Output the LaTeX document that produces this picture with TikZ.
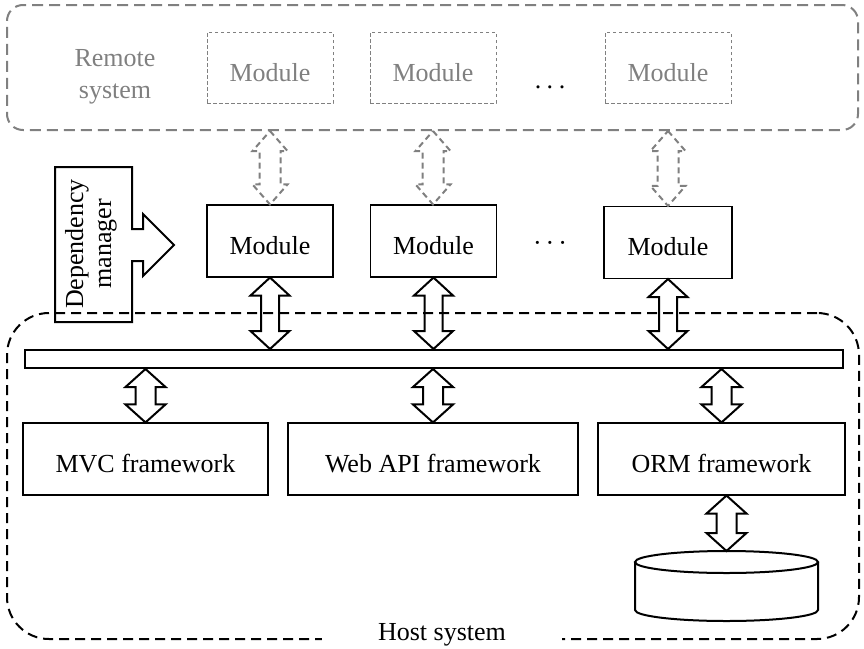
\documentclass[tikz,border=0pt]{standalone}
\usepackage{fontspec}
\setmainfont{Liberation Serif}
\usetikzlibrary{calc}
\definecolor{rgray}{RGB}{128,128,128}
% #1 top point, #2 bottom point, #3 shaft half width, #4 head half width, #5 head length, #6 style
\newcommand{\blockarrow}[6]{%
  \draw[#6] let \p1=(#1), \p2=(#2) in
   (\x1,\y1) -- (\x1+#4,\y1-#5) -- (\x1+#3,\y1-#5) -- (\x1+#3,\y2+#5) -- (\x1+#4,\y2+#5) -- (\x1,\y2)
   -- (\x1-#4,\y2+#5) -- (\x1-#3,\y2+#5) -- (\x1-#3,\y1-#5) -- (\x1-#4,\y1-#5) -- cycle;}
\begin{document}
\begin{tikzpicture}[x=1pt,y=-1pt,
  font=\fontsize{26}{29}\selectfont, line join=miter,
  modbox/.style={draw, line width=1.1pt, minimum width=126pt, minimum height=72pt,
    inner sep=0pt, text height=26pt, text depth=0pt},
  rmodbox/.style={draw=rgray, text=rgray, line width=1pt, dash pattern=on 3.5pt off 2.5pt,
    minimum width=126pt, minimum height=71pt, inner sep=0pt, text height=28pt, text depth=0pt},
  fwbox/.style={draw, line width=1.1pt, minimum height=72pt, inner sep=0pt,
    text height=26pt, text depth=0pt},
  solidarrow/.style={line width=2pt},
  grayarrow/.style={line width=2pt, draw=rgray, dash pattern=on 6pt off 4pt}
]
\useasboundingbox (0,0) rectangle (864,648);

% remote system
\node[draw=rgray, line width=2pt, dash pattern=on 11pt off 6pt, rounded corners=16pt,
  minimum width=851pt, minimum height=125pt, inner sep=0pt] (remote) at (432.5,67.5) {};
\node[text=rgray, align=center, font=\fontsize{26}{32}\selectfont] (rlabel) at (115,77) {Remote\\system};
\node[rmodbox] (r1) at (270,67.5) {Module};
\node[rmodbox] (r2) at (433,67.5) {Module};
\node[rmodbox] (r3) at (668,67.5) {Module};
\node[anchor=base, inner sep=0pt] (rdots) at (550,88) {.\hspace{5.5pt}.\hspace{5.5pt}.};

% modules
\node[modbox] (m1) at (270,241) {Module};
\node[modbox] (m2) at (433.5,241) {Module};
\node[modbox, minimum width=128pt] (m3) at (668,242.5) {Module};
\node[anchor=base, inner sep=0pt] (mdots) at (550,251) {·\hspace{4pt}·\hspace{4pt}·};

% dependency manager
\draw[line width=2pt] (55,167) -- (132,167) -- (132,229) -- (143,229) -- (143,214) -- (174,245)
  -- (143,276) -- (143,261) -- (132,261) -- (132,322) -- (55,322) -- cycle;
\node[rotate=90, align=center, font=\fontsize{26}{28}\selectfont] (dep) at (91,244) {Dependency\\manager};

% host system
\node[draw, line width=2pt, dash pattern=on 10pt off 6pt, rounded corners=42pt,
  minimum width=852pt, minimum height=326pt, inner sep=0pt] (host) at (433,476) {};
\node[fill=white, inner xsep=56pt, anchor=base] (hostlabel) at (442,640) {Host system};

% bus
\node[draw, line width=2pt, minimum width=818pt, minimum height=18pt, inner sep=0pt] (bus) at (434,359) {};

% frameworks
\node[fwbox, minimum width=245pt] (mvc) at (145.5,459) {MVC framework};
\node[fwbox, minimum width=290pt] (web) at (433,459) {Web API framework};
\node[fwbox, minimum width=247pt] (orm) at (721.5,459) {ORM framework};

% database
\coordinate (dbtop) at (726.5,551);
\draw[line width=2pt] (726.5,562) ellipse [x radius=91.5pt, y radius=11pt];
\draw[line width=2pt] (635,562) -- (635,610) arc[start angle=180, end angle=360, x radius=91.5pt, y radius=11pt] -- (818,562);

% gray dashed arrows
\blockarrow{remote.south -| r1}{m1.north}{10.5pt}{17.5pt}{20pt}{grayarrow}
\blockarrow{remote.south -| r2}{m2.north}{10.5pt}{17.5pt}{20pt}{grayarrow}
\blockarrow{remote.south -| r3}{m3.north}{10.5pt}{17.5pt}{20pt}{grayarrow}

% module to bus arrows
\blockarrow{m1.south}{bus.north}{9pt}{19.5pt}{18pt}{solidarrow}
\blockarrow{m2.south}{bus.north}{9pt}{19.5pt}{18pt}{solidarrow}
\blockarrow{m3.south}{bus.north}{9pt}{19.5pt}{18pt}{solidarrow}

% bus to frameworks
\blockarrow{bus.south -| mvc}{mvc.north}{10pt}{20pt}{18pt}{solidarrow}
\blockarrow{bus.south -| web}{web.north}{10pt}{20pt}{18pt}{solidarrow}
\blockarrow{bus.south -| orm}{orm.north}{10pt}{20pt}{18pt}{solidarrow}

% orm to db
\blockarrow{orm.south -| dbtop}{dbtop}{10pt}{20pt}{18pt}{solidarrow}
\end{tikzpicture}
\end{document}
